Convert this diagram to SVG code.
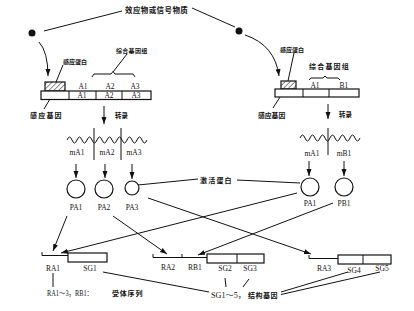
<svg xmlns="http://www.w3.org/2000/svg" width="414" height="311" viewBox="0 0 414 311">
<defs>
<marker id="ah" markerUnits="userSpaceOnUse" markerWidth="8" markerHeight="6" refX="7" refY="2.5" orient="auto"><path d="M0,0 L7,2.5 L0,5 z" fill="#111"/></marker>
<pattern id="hatch" patternUnits="userSpaceOnUse" width="3.5" height="3.5" patternTransform="rotate(45)"><line x1="0" y1="0" x2="0" y2="3.5" stroke="#111" stroke-width="1"/></pattern>
</defs>
<style>
.ln{fill:none;stroke:#111;stroke-width:1}
.box{fill:#fff;stroke:#111;stroke-width:1.2}
.cj{font-family:"Noto Sans CJK SC","Noto Sans",sans-serif;font-weight:bold;fill:#111}
.lt{font-family:"Liberation Serif","Noto Sans CJK SC",serif;fill:#111;font-size:7.5px}
text{dominant-baseline:central}
</style>
<rect width="414" height="311" fill="#fff"/>

<g id="signal">
<text class="cj" x="125" y="9" font-size="7.5" letter-spacing="0.4">效应物或信号物质</text>
<circle cx="32" cy="33" r="3.5" fill="#111"/>
<circle cx="239" cy="31" r="3.5" fill="#111"/>
</g>

<g id="left-block">
<rect x="45" y="82" width="20" height="9" fill="url(#hatch)" stroke="#111" stroke-width="1.2"/>
<rect class="box" x="41" y="91" width="110" height="8.5"/>
<line class="ln" x1="69" y1="91" x2="69" y2="99.5"/>
<line class="ln" x1="96" y1="91" x2="96" y2="99.5"/>
<line class="ln" x1="122" y1="91" x2="122" y2="99.5"/>
<text class="lt" x="83" y="86.5" text-anchor="middle">A1</text>
<text class="lt" x="110" y="86.5" text-anchor="middle">A2</text>
<text class="lt" x="135" y="86.5" text-anchor="middle">A3</text>
<text class="lt" x="82" y="95.5" text-anchor="middle">A1</text>
<text class="lt" x="109" y="95.5" text-anchor="middle">A2</text>
<text class="lt" x="136" y="95.5" text-anchor="middle">A3</text>
<path class="ln" d="M92,77 L94,74 L111,74 L113,71.5 L115,74 L133,74 L135,77"/>
<text class="cj" x="116" y="50" font-size="6" letter-spacing="0.3">综合基因组</text>
<text class="cj" x="63" y="61" font-size="6">感应蛋白</text>
<text class="cj" x="30" y="115" font-size="7" letter-spacing="1.2">感应基因</text>
</g>

<g id="right-block">
<rect x="281" y="81" width="15" height="8" fill="url(#hatch)" stroke="#111" stroke-width="1.2"/>
<rect class="box" x="275" y="89" width="84" height="8"/>
<line class="ln" x1="303" y1="89" x2="303" y2="97"/>
<line class="ln" x1="329" y1="89" x2="329" y2="97"/>
<text class="lt" x="315" y="85" text-anchor="middle">A1</text>
<text class="lt" x="344" y="85" text-anchor="middle">B1</text>
<path class="ln" d="M309,80 L311,78 L323,78 L325,76 L327,78 L338,78 L340,80"/>
<text class="cj" x="309" y="66" font-size="7" letter-spacing="1.2">综合基因组</text>
<text class="cj" x="280" y="49" font-size="6">感应蛋白</text>
<text class="cj" x="258" y="115" font-size="6.8">感应基因</text>
</g>

<g id="left-mrna">
<path class="ln" d="M67,140 q2.5,-6 5,0 t5,0 t5,0 t5,0 t5,0 t5,0 t5,0 t5,0 t5,0 t5,0 t5,0 t5,0 t5,0 t5,0 t5,0 t5,0"/>
<line class="ln" x1="94" y1="128" x2="94" y2="160"/>
<line class="ln" x1="121" y1="128" x2="121" y2="160"/>
<text class="lt" x="77" y="152" text-anchor="middle">mA1</text>
<text class="lt" x="107" y="152" text-anchor="middle">mA2</text>
<text class="lt" x="134" y="152" text-anchor="middle">mA3</text>
<text class="cj" x="115" y="115" font-size="6.5">转录</text>
</g>

<g id="right-mrna">
<path class="ln" d="M300,138 q2.5,-6 5,0 t5,0 t5,0 t5,0 t5,0 t5,0 t5,0 t5,0 t5,0 t5,0 t5,0 t5,0"/>
<line class="ln" x1="328" y1="128" x2="328" y2="155"/>
<text class="lt" x="312" y="153" text-anchor="middle">mA1</text>
<text class="lt" x="344" y="153" text-anchor="middle">mB1</text>
<text class="cj" x="339" y="114" font-size="6.5">转录</text>
</g>

<g id="PA1-left">
<circle class="box" cx="76" cy="189" r="9"/>
<text class="lt" x="76" y="207" text-anchor="middle" font-size="8">PA1</text>
</g>
<g id="PA2">
<circle class="box" cx="104" cy="189" r="9"/>
<text class="lt" x="104" y="207" text-anchor="middle" font-size="8">PA2</text>
</g>
<g id="PA3">
<circle class="box" cx="132" cy="188" r="7"/>
<text class="lt" x="132" y="207" text-anchor="middle" font-size="8">PA3</text>
</g>
<g id="PA1-right">
<circle class="box" cx="310" cy="187" r="9"/>
<text class="lt" x="310" y="203" text-anchor="middle" font-size="8">PA1</text>
</g>
<g id="PB1">
<circle class="box" cx="344" cy="187" r="9"/>
<text class="lt" x="344" y="203" text-anchor="middle" font-size="8">PB1</text>
</g>
<g id="activator">
<text class="cj" x="200" y="180" font-size="7" letter-spacing="1.2">激活蛋白</text>
</g>

<g id="gene1">
<path class="ln" d="M42,252 L42,255.5 L68,255.5"/>
<rect class="box" x="68" y="253" width="39" height="9"/>
<text class="lt" x="53" y="268" text-anchor="middle" font-size="8">RA1</text>
<text class="lt" x="90" y="268" text-anchor="middle" font-size="8">SG1</text>
</g>
<g id="gene2">
<path class="ln" d="M153,254 L153,257.5 L207,257.5 M182,254 L182,257.5"/>
<rect class="box" x="207" y="254" width="57" height="9"/>
<line class="ln" x1="237" y1="254" x2="237" y2="263"/>
<text class="lt" x="168" y="267" text-anchor="middle" font-size="8">RA2</text>
<text class="lt" x="195" y="267" text-anchor="middle" font-size="8">RB1</text>
<text class="lt" x="225" y="268" text-anchor="middle" font-size="8">SG2</text>
<text class="lt" x="250" y="268" text-anchor="middle" font-size="8">SG3</text>
</g>
<g id="gene3">
<path class="ln" d="M309,255 L309,258.5 L338,258.5"/>
<rect class="box" x="338" y="255" width="53" height="9"/>
<line class="ln" x1="363" y1="255" x2="363" y2="264"/>
<text class="lt" x="324" y="268" text-anchor="middle" font-size="8">RA3</text>
<text class="lt" x="354" y="270" text-anchor="middle" font-size="8">SG4</text>
<text class="lt" x="382" y="268" text-anchor="middle" font-size="8">SG5</text>
</g>

<g id="legend">
<text class="lt" x="47" y="293" font-size="8" textLength="46" lengthAdjust="spacingAndGlyphs">RA1～3，RB1：</text>
<text class="cj" x="112" y="293" font-size="7" letter-spacing="0.8">受体序列</text>
<text class="lt" x="211" y="295" font-size="8" textLength="35" lengthAdjust="spacingAndGlyphs">SG1～5，</text>
<text class="cj" x="248" y="295" font-size="7" letter-spacing="0.5">结构基因</text>
</g>

<g id="connectors">
<line class="ln" x1="44" y1="31" x2="122" y2="11"/>
<line class="ln" x1="192" y1="8" x2="235" y2="27"/>
<path class="ln" d="M39,42 Q48,52 48,76" marker-end="url(#ah)"/>
<path class="ln" d="M245,35 Q275,45 279,76" marker-end="url(#ah)"/>
<line class="ln" x1="113" y1="72" x2="127" y2="54"/>
<line class="ln" x1="56" y1="82" x2="63" y2="65"/>
<line class="ln" x1="50" y1="99" x2="44" y2="109"/>
<line class="ln" x1="288" y1="81" x2="294" y2="53"/>
<line class="ln" x1="280" y1="97" x2="273" y2="108"/>
<line class="ln" x1="104" y1="106" x2="104" y2="124" marker-end="url(#ah)"/>
<line class="ln" x1="328" y1="104" x2="328" y2="119" marker-end="url(#ah)"/>
<line class="ln" x1="76" y1="164" x2="76" y2="178" marker-end="url(#ah)"/>
<line class="ln" x1="105" y1="164" x2="105" y2="178" marker-end="url(#ah)"/>
<line class="ln" x1="132" y1="164" x2="132" y2="179" marker-end="url(#ah)"/>
<line class="ln" x1="309" y1="161" x2="309" y2="176" marker-end="url(#ah)"/>
<line class="ln" x1="344" y1="161" x2="344" y2="176" marker-end="url(#ah)"/>
<line class="ln" x1="138" y1="185" x2="198" y2="179"/>
<line class="ln" x1="237" y1="180" x2="300" y2="183"/>
<line class="ln" x1="67" y1="216" x2="53" y2="251" marker-end="url(#ah)"/>
<line class="ln" x1="297" y1="193" x2="61" y2="253" marker-end="url(#ah)"/>
<line class="ln" x1="113" y1="216" x2="167" y2="254" marker-end="url(#ah)"/>
<line class="ln" x1="148" y1="198" x2="311" y2="254" marker-end="url(#ah)"/>
<line class="ln" x1="333" y1="203" x2="198" y2="255" marker-end="url(#ah)"/>
<line class="ln" x1="53" y1="273" x2="53" y2="287"/>
<line class="ln" x1="103" y1="272" x2="209" y2="292"/>
<line class="ln" x1="225" y1="278" x2="226" y2="287"/>
<line class="ln" x1="249" y1="279" x2="243" y2="287"/>
<line class="ln" x1="281" y1="292" x2="348" y2="272"/>
<line class="ln" x1="281" y1="294.5" x2="380" y2="272"/>
</g>
</svg>
